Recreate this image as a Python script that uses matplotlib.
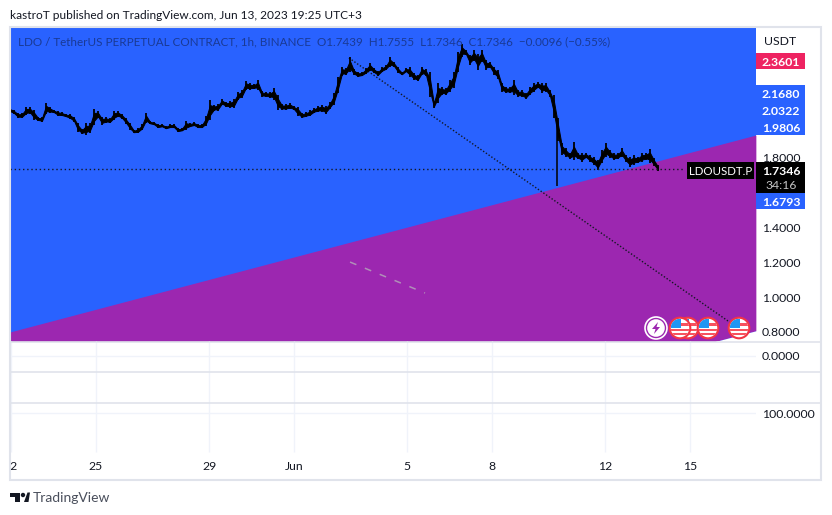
import numpy as np
import matplotlib
matplotlib.use("Agg")
import matplotlib.pyplot as plt
from matplotlib.patches import Rectangle, Circle, Polygon

plt.rcParams['font.family'] = ['Lato', 'DejaVu Sans']

W, H = 832, 515
BLUE = '#2962ff'
PURPLE = '#9c27b0'
INK = '#131722'
FRAME = '#e0e3eb'
GRID = '#f0f3fa'
FS = 8.8

# Sampled price ranges, oldest to newest
highs = [2.087,2.076,2.059,2.059,2.093,2.093,2.076,2.036,2.036,2.116,2.093,2.076,2.070,2.064,2.053,2.053,2.036,2.001,1.967,2.001,
         2.001,2.082,2.070,2.036,2.036,2.030,2.070,2.070,2.053,2.030,2.001,1.961,1.972,1.995,2.059,2.013,2.007,1.995,1.995,1.984,
         1.995,1.995,1.972,1.972,2.013,2.001,2.007,1.995,1.995,2.041,2.133,2.105,2.110,2.139,2.122,2.128,2.139,2.179,2.191,2.242,
         2.231,2.225,2.248,2.185,2.179,2.179,2.202,2.162,2.110,2.110,2.116,2.099,2.093,2.059,2.064,2.076,2.087,2.099,2.105,2.099,
         2.122,2.174,2.265,
         2.323,2.317,2.380,2.311,2.294,2.294,2.317,2.346,2.317,2.300,2.323,2.334,2.380,2.352,2.323,2.294,2.317,2.323,2.288,2.277,
         2.323,2.311,2.294,2.122,2.231,2.208,2.202,2.248,2.294,2.409,2.455,2.421,2.392,2.421,2.398,2.421,2.363,2.352,2.323,2.306,
         2.231,2.208,2.208,2.248,2.191,2.191,2.174,2.208,2.231,2.237,2.231,2.231,2.191,2.162,2.030,1.886,1.857,1.829,1.892,1.829,
         1.829,1.829,1.817,1.806,1.788,1.846,1.886,1.846,1.829,1.829,1.857,1.817,1.806,1.817,1.806,1.829,1.829,1.852,1.800,1.760]
lows = [2.064,2.053,2.030,2.030,2.047,2.053,2.018,2.013,2.007,2.053,2.059,2.059,2.041,2.041,2.036,2.024,2.007,1.949,1.938,1.932,
        1.944,1.990,2.030,1.990,2.001,2.001,2.018,2.036,2.024,1.995,1.961,1.944,1.944,1.961,2.001,1.995,1.990,1.972,1.978,1.967,
        1.972,1.972,1.949,1.955,1.961,1.978,1.984,1.972,1.972,1.984,2.018,2.070,2.070,2.105,2.093,2.087,2.087,2.133,2.145,2.191,
        2.191,2.197,2.191,2.151,2.151,2.145,2.133,2.076,2.076,2.076,2.082,2.076,2.041,2.030,2.036,2.041,2.059,2.064,2.064,2.053,
        2.082,2.105,2.174,
        2.271,2.277,2.294,2.277,2.265,2.271,2.283,2.300,2.288,2.271,2.294,2.306,2.323,2.323,2.288,2.277,2.294,2.265,2.248,2.242,
        2.277,2.271,2.150,2.087,2.116,2.162,2.162,2.179,2.202,2.294,2.380,2.392,2.334,2.357,2.306,2.352,2.306,2.317,2.277,2.254,
        2.179,2.174,2.174,2.162,2.151,2.151,2.139,2.162,2.179,2.202,2.174,2.179,2.151,2.030,1.900,1.817,1.806,1.794,1.788,1.794,
        1.777,1.800,1.777,1.760,1.731,1.771,1.806,1.800,1.788,1.794,1.806,1.777,1.748,1.760,1.771,1.777,1.788,1.771,1.754,1.725]
first_day = -10.035        # days relative to 1 Jun
sample_days = 0.1413
spike_days = [9.31]
spike_tops = [2.03]
spike_bottoms = [1.639]

band_days = [-10.04, 16.32]
band_upper = [0.80, 1.932]
band_lower = [-0.32, 0.807]
trend_days = [1.94, 15.48]
trend_prices = [2.375, 0.847]
ghost_days = [1.98, 4.63]
ghost_prices = [1.202, 1.024]
last_price = 1.7346

date_days = [-10, -7, -3, 0, 4, 7, 11, 14]
date_labels = ['22', '25', '29', 'Jun', '5', '8', '12', '15']
price_ticks = [0.8, 1.0, 1.2, 1.4, 1.8]

fig = plt.figure(figsize=(W/100, H/100), dpi=100, facecolor='white')

def box(l, t, r, b):
    return [l/W, 1-b/H, (r-l)/W, (b-t)/H]

# main price pane
ax = fig.add_axes(box(10, 27, 756, 341), facecolor=BLUE)
ax.set_xlim(-10.035, 16.325)
ax.set_ylim(2.708-0.005747*341, 2.708-0.005747*27)
ax.axis('off')
ax.fill_between(band_days, band_upper, band_lower, color=PURPLE, lw=0, zorder=1)
ax.fill_between(band_days, band_lower, -1, color='white', lw=0, zorder=1)
ax.add_patch(Rectangle((0, 0), 1, 1, transform=ax.transAxes, color=BLUE, zorder=0))

days = first_day + np.arange(len(highs))*sample_days
hi = np.array(highs)
lo = np.array(lows)
mid = (hi + lo)/2
ax.fill_between(days, mid-0.25*(hi-lo), mid+0.25*(hi-lo), color='black', lw=0.7, zorder=3)
ax.vlines(days, lo, hi, color='black', lw=1.3, zorder=3)
ax.vlines(spike_days, spike_bottoms, spike_tops, color='black', lw=1.1, zorder=3)
ax.plot(trend_days, trend_prices, color=INK, lw=1, ls=(0, (1, 1.4)), zorder=2)
ax.plot(ghost_days, ghost_prices, color='#b08fb8', lw=1.1, ls=(0, (4.5, 6)), zorder=2)
ax.plot([-10.035, 13.82], [last_price, last_price], color=INK, lw=1, ls=(0, (1, 2)), zorder=4)

# lower panes and date axis
low = fig.add_axes(box(10, 341, 756, 480), facecolor='none')
low.set_xlim(-10.035, 16.325)
low.set_ylim(480, 341)
low.axis('off')
low.vlines(date_days, 341, 452, color=GRID, lw=1)
low.hlines([355.7, 413], -10.035, 16.325, color=GRID, lw=1)
for d, t in zip(date_days, date_labels):
    low.text(d, 466, t, ha='center', va='center_baseline', fontsize=FS, color=INK, clip_on=True)

# overlay in pixel space for the chart chrome
ov = fig.add_axes([0, 0, 1, 1], facecolor='none')
ov.set_xlim(0, W)
ov.set_ylim(H, 0)
ov.axis('off')

for y in (341.5, 372, 403):
    ov.plot([10, 821], [y, y], color=FRAME, lw=1.2, solid_capstyle='butt')
ov.add_patch(Rectangle((9.5, 27), 811.5, 452.5, fill=False, ec=FRAME, lw=1.5))

ov.text(10, 14.5, 'kastroT published on TradingView.com, Jun 13, 2023 19:25 UTC+3',
        fontsize=8.6, color=INK, va='center_baseline', ha='left')
ov.text(18, 41, 'LDO / TetherUS PERPETUAL CONTRACT, 1h, BINANCE  O1.7439  H1.7555  L1.7346  C1.7346  \u22120.0096 (\u22120.55%)',
        fontsize=8.35, color='#1a3a94', va='center_baseline', ha='left')

for p in price_ticks:
    ov.text(781, 158+(1.8-p)*174, f'{p:.4f}', fontsize=FS, color=INK, ha='center', va='center_baseline')
ov.text(781, 355.5, '0.0000', fontsize=FS, color=INK, ha='center', va='center_baseline')
ov.text(788, 413, '100.0000', fontsize=FS, color=INK, ha='center', va='center_baseline')
ov.text(780, 40.5, 'USDT', fontsize=FS, color=INK, ha='center', va='center_baseline')

ov.add_patch(Rectangle((756, 53), 49, 16, color='#ee2361', lw=0))
ov.add_patch(Rectangle((756, 85), 49, 50, color=BLUE, lw=0))
ov.add_patch(Rectangle((756, 193), 49, 16, color=BLUE, lw=0))
ov.add_patch(Rectangle((756, 162), 49, 31, color='black', lw=0))
ov.add_patch(Rectangle((687, 162), 67, 17, color='black', lw=0))
for y, t, c in [(61.5, '2.3601', 'white'), (93.5, '2.1680', 'white'), (110.5, '2.0322', 'white'),
                (127.5, '1.9806', 'white'), (170.5, '1.7346', 'white'), (184.5, '34:16', '#c4c4c4'),
                (201.5, '1.6793', 'white')]:
    ov.text(781, y, t, fontsize=FS, color=c, ha='center', va='center_baseline', fontweight='bold' if c == 'white' else 'normal')
ov.text(720.5, 170.5, 'LDOUSDT.P', fontsize=8.3, color='white', ha='center', va='center_baseline')

def flag(cx, cy, z):
    r = 9.3
    clip = Circle((cx, cy), r, transform=ov.transData)
    ov.add_patch(Circle((cx, cy), 10.3, fc='white', ec='#f23645', lw=1.5, zorder=z))
    parts = [(cx-r, cy-r, r+1, 9.5, '#2196f3'), (cx-r, cy+0.5, 2*r, 2.5, '#f7525f'),
             (cx-r, cy+4.5, 2*r, 2.5, '#f7525f'), (cx+1, cy-5, r, 2.5, '#f7525f')]
    for x0, y0, w, h, c in parts:
        rr = Rectangle((x0, y0), w, h, color=c, lw=0, zorder=z+0.1)
        ov.add_patch(rr)
        rr.set_clip_path(clip)

ov.add_patch(Circle((656, 328), 11, fc=PURPLE, ec='white', lw=1.2, zorder=5))
ov.add_patch(Circle((656, 328), 8.8, fc='white', ec='none', zorder=5.1))
ov.add_patch(Polygon([(658, 322), (652, 329), (655.5, 329), (654, 334), (660, 327), (656.5, 327)],
                     fc=PURPLE, ec='none', zorder=5.2))
flag(688, 328, 5)
flag(680, 328, 6)
flag(708, 328, 7)
flag(739, 328, 8)

# TradingView mark
ov.add_patch(Polygon([(10, 492.5), (19.5, 492.5), (19.5, 502), (14.5, 502), (14.5, 497), (10, 497)], fc=INK, ec='none'))
ov.add_patch(Circle((23, 495), 2.2, fc=INK, ec='none'))
ov.add_patch(Polygon([(24, 502), (27.5, 492.5), (30, 492.5), (28.5, 502)], fc=INK, ec='none'))
ov.text(33, 497.5, 'TradingView', fontsize=10, color='#4a4f5c', va='center_baseline', ha='left')

fig.savefig('out.png', dpi=100)
